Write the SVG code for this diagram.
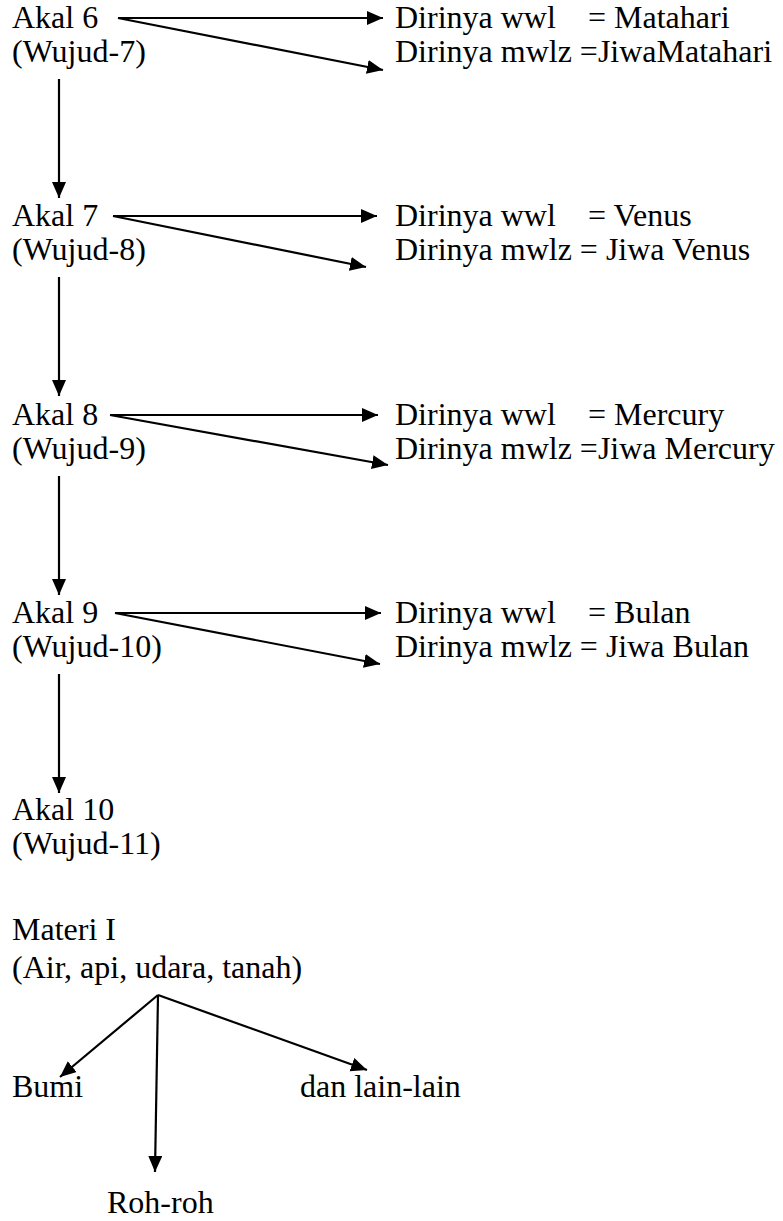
<svg xmlns="http://www.w3.org/2000/svg" width="783" height="1221" viewBox="0 0 783 1221">
<defs>
<marker id="ah" markerUnits="userSpaceOnUse" markerWidth="17" markerHeight="15" refX="16" refY="7" orient="auto">
<path d="M0,0 L16,7 L0,14 z" fill="#000"/>
</marker>
<style>
text{font-family:"Liberation Serif","Times New Roman",serif;font-size:32px;fill:#000}
.c line{stroke:#000;stroke-width:2.2;marker-end:url(#ah)}
</style>
</defs>
<rect width="783" height="1221" fill="#fff"/>
<g id="akal6"><text x="12" y="28">Akal 6</text><text x="12" y="62">(Wujud-7)</text></g>
<g id="r1"><text x="395" y="28">Dirinya wwl<tspan x="588">= Matahari</tspan></text><text x="395" y="62">Dirinya mwlz =JiwaMatahari</text></g>
<g id="akal7"><text x="12" y="226">Akal 7</text><text x="12" y="260">(Wujud-8)</text></g>
<g id="r2"><text x="395" y="226">Dirinya wwl<tspan x="588">= Venus</tspan></text><text x="395" y="260">Dirinya mwlz = Jiwa Venus</text></g>
<g id="akal8"><text x="12" y="425">Akal 8</text><text x="12" y="459">(Wujud-9)</text></g>
<g id="r3"><text x="395" y="425">Dirinya wwl<tspan x="588">= Mercury</tspan></text><text x="395" y="459">Dirinya mwlz =Jiwa Mercury</text></g>
<g id="akal9"><text x="12" y="623">Akal 9</text><text x="12" y="657">(Wujud-10)</text></g>
<g id="r4"><text x="395" y="623">Dirinya wwl<tspan x="588">= Bulan</tspan></text><text x="395" y="657">Dirinya mwlz = Jiwa Bulan</text></g>
<g id="akal10"><text x="12" y="820">Akal 10</text><text x="12" y="854">(Wujud-11)</text></g>
<g id="materi"><text x="12" y="940">Materi I</text><text x="12" y="978">(Air, api, udara, tanah)</text></g>
<g id="bumi"><text x="12" y="1097">Bumi</text></g>
<g id="lain"><text x="300" y="1097">dan lain-lain</text></g>
<g id="roh"><text x="107" y="1213">Roh-roh</text></g>
<g class="c" id="connectors">
<line x1="118" y1="18" x2="383" y2="18"/>
<line x1="118" y1="18" x2="383" y2="70"/>
<line x1="113" y1="216" x2="377" y2="216"/>
<line x1="113" y1="216" x2="366" y2="267"/>
<line x1="110" y1="415" x2="378" y2="415"/>
<line x1="110" y1="415" x2="388" y2="465"/>
<line x1="115" y1="613" x2="381" y2="613"/>
<line x1="115" y1="613" x2="380" y2="664"/>
<line x1="59" y1="79" x2="59" y2="198"/>
<line x1="59" y1="277" x2="59" y2="396"/>
<line x1="59" y1="476" x2="59" y2="595"/>
<line x1="59" y1="674" x2="59" y2="793"/>
<line x1="158" y1="995" x2="60" y2="1077"/>
<line x1="158" y1="995" x2="155" y2="1172"/>
<line x1="158" y1="995" x2="367" y2="1070"/>
</g>
</svg>
